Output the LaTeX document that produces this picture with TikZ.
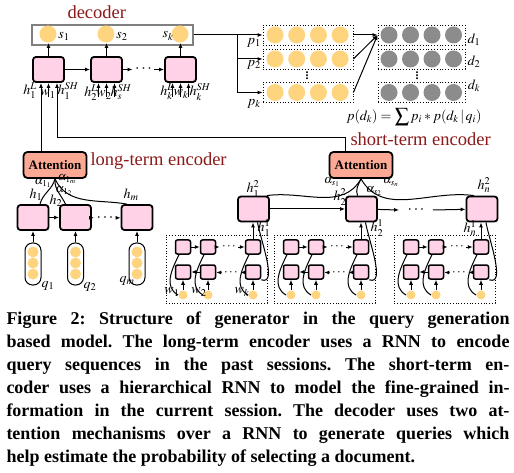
\documentclass[tikz,border=0pt]{standalone}
\usepackage{mathptmx}
\usepackage{fontspec}
\setmainfont{Liberation Serif}
\usetikzlibrary{arrows.meta,positioning,calc}
\definecolor{cellpink}{RGB}{255,210,232}
\definecolor{attnred}{RGB}{251,169,148}
\definecolor{qyellow}{RGB}{255,212,127}
\definecolor{docgray}{RGB}{140,140,140}
\definecolor{titlered}{RGB}{140,25,25}
\newcommand{\tightvdots}{\vbox{\baselineskip=3.2pt\lineskiplimit=0pt\hbox{.}\hbox{.}\hbox{.}}}
\tikzset{
  cell/.style={draw,line width=1.8pt,rounded corners=3pt,fill=cellpink,minimum width=31pt,minimum height=25pt,inner sep=0pt},
  minicell/.style={draw,line width=1.5pt,rounded corners=2pt,fill=cellpink,minimum width=15pt,minimum height=14pt,inner sep=0pt},
  attn/.style={draw,line width=1.8pt,rounded corners=4pt,fill=attnred,minimum width=63pt,minimum height=26pt,inner sep=0pt,font=\fontsize{13}{15}\selectfont\bfseries},
  ydot/.style={circle,fill=qyellow,minimum size=17pt,inner sep=0pt},
  gdot/.style={circle,fill=docgray,minimum size=17pt,inner sep=0pt},
  qdot/.style={circle,fill=qyellow,minimum size=11pt,inner sep=0pt},
  wdot/.style={circle,fill=qyellow,minimum size=9pt,inner sep=0pt},
  dotrow/.style={draw,dotted,line width=0.8pt,minimum width=90pt,minimum height=20pt,inner sep=0pt},
  pill/.style={draw,line width=1pt,rounded corners=7.5pt,minimum width=16pt,minimum height=42pt,inner sep=0pt},
  lbl/.style={inner sep=0pt,font=\fontsize{14}{16}\selectfont},
  albl/.style={inner sep=0pt,font=\fontsize{12}{14}\selectfont},
  part/.style={inner sep=0pt,anchor=west,text=titlered,font=\fontsize{18.5}{20}\selectfont},
  hdots/.style={inner sep=0pt,inner xsep=2pt,font=\fontsize{16}{18}\selectfont},
  vdotsep/.style={inner sep=0pt,font=\fontsize{12}{12}\selectfont\bfseries}
}

\begin{document}
\begin{tikzpicture}[x=1pt,y=-1pt,>={Latex[length=5pt,width=4pt]},line width=1pt]
  \useasboundingbox (0,0) rectangle (514,473);

  \node[draw=gray,line width=1.3pt,minimum width=161pt,minimum height=20pt,inner sep=0pt] (decbox) at (112.5,35) {};
  \node[part] (declbl) at (67,12) {decoder};
  \foreach \i/\x/\lx in {1/48/64,2/106/122,k/180/168} {
    \node[ydot] (s\i) at (\x,34) {};
    \node[lbl] (sl\i) at (\lx,36) {\(s_\i\)};
    \node[cell] (dec\i) at (\x+0.5,69.5) {};
    \draw[->] (dec\i.north) -- (dec\i.north |- s\i.south);
  }
  \node[hdots] (ddots) at (143.5,69.5) {\(\cdots\)};
  \draw[->] (dec1) -- (dec2);
  \draw[->] (dec2) -- (ddots);
  \draw[->] (ddots) -- (deck);
  \foreach \c in {dec2,deck}
    \foreach \dx in {-8,0,8}
      \draw[->] ([xshift=\dx pt,yshift=-14pt]\c.south) -- ([xshift=\dx pt]\c.south);
  \draw[->] ([yshift=-14pt]dec1.south) -- (dec1.south);
  \node[lbl] (hL1) at (30,91) {\(h_1^L\)};
  \node[lbl] (w1d) at (48,94) {\(w_1\)};
  \node[lbl] (hS1) at (68,91) {\(h_1^{SH}\)};
  \node[lbl] (hL2) at (91,93) {\(h_2^L\)};
  \node[lbl] (w2d) at (104,95) {\(w_2\)};
  \node[lbl] (hS2) at (121,92) {\(h_s^{SH}\)};
  \node[lbl] (hLk) at (167,92) {\(h_k^L\)};
  \node[lbl] (wkd) at (181,94) {\(w_k\)};
  \node[lbl] (hSk) at (200,92) {\(h_k^{SH}\)};

  \coordinate (split) at (237,35);
  \draw (decbox.east) -- (split);
  \foreach \r/\y/\py/\dy in {1/35/43/40,2/59/65/62,k/92.5/104/86} {
    \node[dotrow] (yrow\r) at (308,\y) {};
    \node[dotrow,minimum width=87pt] (grow\r) at (421.5,\y) {};
    \foreach \k in {0,...,3} {
      \node[ydot] (yd\r\k) at (275+21.7*\k,\y) {};
      \node[gdot] (gd\r\k) at (389+21.5*\k,\y) {};
    }
    \draw[->] (split) |- (yrow\r.west);
    \draw[->] (yrow\r.east) -- (grow1.west);
    \node[lbl] (pl\r) at (254,\py) {\(p_\r\)};
    \node[lbl] (dl\r) at (474,\dy) {\(d_\r\)};
  }
  \node[vdotsep] (yvd) at (307,75.5) {\tightvdots};
  \node[vdotsep] (gvd) at (417,75.5) {\tightvdots};
  \node[lbl] (pdk) at (414,117) {\(p(d_k) = \displaystyle\sum p_i * p(d_k\,|\,q_i)\)};

  \node[attn] (attL) at (55,165) {Attention};
  \node[part] (ltlbl) at (90,161) {long-term encoder};
  \foreach \i/\x/\qx/\qy in {1/33/48/286,2/75.5/90/287,m/137/127/281} {
    \node[cell] (lc\i) at (\x,217.5) {};
    \node[pill] (pill\i) at (\x,264) {};
    \foreach \k in {0,1,2}
      \node[qdot] (qd\i\k) at (\x,252+11*\k) {};
    \draw[->] (pill\i) -- (lc\i);
    \node[lbl] (ql\i) at (\qx,\qy) {\(q_\i\)};
  }
  \node[hdots] (ldots) at (105,218) {\(\cdots\)};
  \draw[->] (lc1) -- (lc2);
  \draw[->] (lc2) -- (ldots);
  \draw[->] (ldots) -- (lcm);
  \draw (attL.south) to[out=-105,in=75] ([xshift=7pt]lc1.north);
  \draw (attL.south) to[out=-95,in=115] ([xshift=-10pt]lc2.north);
  \draw (attL.south) to[out=-65,in=170] ([xshift=-10pt]lcm.north);
  \node[lbl] (hl1) at (36,195) {\(h_1\)};
  \node[lbl] (hl2) at (56,201) {\(h_2\)};
  \node[lbl] (hlm) at (131,195) {\(h_m\)};
  \node[albl] (al1) at (43,183) {\(\alpha_{1_1}\)};
  \node[albl] (al2) at (64,191) {\(\alpha_{1_2}\)};
  \node[albl] (alm) at (67,179) {\(\alpha_{1_m}\)};
  \draw[->] ([xshift=-14pt]attL.north) -- ([xshift=-7.5pt]dec1.south);

  \node[attn] (attS) at (361,165) {Attention};
  \node[part] (stlbl) at (350,139) {short-term encoder};
  \draw[->] ([xshift=-16pt]attS.north) |- ([xshift=8.5pt,yshift=-55pt]dec1.south) -- ([xshift=8.5pt]dec1.south);
  \foreach \i/\x/\L in {1/253.5/166,2/361.5/274,n/482/394} {
    \node[cell] (sc\i) at (\x,209) {};
    \node[dotrow,minimum width=101pt,minimum height=68pt] (sbox\i) at (\L+50.5,269) {};
    \foreach \j/\dx in {1/17,2/42,k/87} {
      \node[minicell] (t\i-\j) at (\L+\dx,247) {};
      \node[minicell] (b\i-\j) at (\L+\dx,272) {};
      \node[wdot] (w\i-\j) at (\L+\dx,295) {};
      \draw[->] (w\i-\j) -- (b\i-\j);
      \draw (w\i-\j.west) .. controls +(-14,-8) and +(-8,16) .. ([xshift=-4pt]t\i-\j.south);
    }
    \node[hdots,font=\fontsize{13}{15}\selectfont] (td\i) at (\L+63,247) {\(\cdots\)};
    \node[hdots,font=\fontsize{13}{15}\selectfont] (bd\i) at (\L+65,273) {\(\cdots\)};
    \draw[->] (t\i-1) -- (t\i-2);
    \draw[->] (t\i-2) -- (td\i);
    \draw[->] (td\i) -- (t\i-k);
    \draw[->] (b\i-k) -- (bd\i);
    \draw[->] (bd\i) -- (b\i-2);
    \draw[->] (b\i-2) -- (b\i-1);
    \draw[->] (t\i-k.north) -- (t\i-k.north |- sc\i.south);
    \draw (b\i-k.south east) to[out=-20,in=-80,looseness=0.8] ([xshift=4pt]sc\i.south);
  }
  \node[hdots] (sdots) at (416,210) {\(\cdots\)};
  \draw[->] (sc1) -- (sc2);
  \draw[->] (sc2) -- ([xshift=-6pt]sdots.west);
  \draw[->] ([xshift=6pt]sdots.east) -- (scn);
  \draw (attS.south) to[out=-120,in=8] ([xshift=-3pt]sc1.north east);
  \draw (attS.south) to[out=-115,in=110] ([xshift=-4pt]sc2.north);
  \draw (attS.south) to[out=-60,in=172] ([xshift=-8pt]scn.north);
  \node[lbl] (hs1) at (253,189) {\(h_1^2\)};
  \node[lbl] (hs2) at (340,197) {\(h_2^2\)};
  \node[lbl] (hsn) at (484,185) {\(h_n^2\)};
  \node[albl] (as1) at (332,182) {\(\alpha_{s_1}\)};
  \node[albl] (as2) at (374,191) {\(\alpha_{s_2}\)};
  \node[albl] (asn) at (391,182) {\(\alpha_{s_n}\)};
  \node[lbl] (hb1) at (264,228) {\(h_1^1\)};
  \node[lbl] (hb2) at (377,228) {\(h_2^1\)};
  \node[lbl] (hbn) at (470,228) {\(h_n^1\)};
  \node[lbl] (wl1) at (172,292) {\(w_1\)};
  \node[lbl] (wl2) at (199,292) {\(w_2\)};
  \node[lbl] (wlk) at (242,292) {\(w_k\)};

  \node[anchor=north west,inner sep=0pt,text width=503pt,align=justify,font=\fontsize{18}{23}\selectfont\bfseries\frenchspacing] (caption) at (6,311)
    {Figure 2: Structure of generator in the query generation\linebreak
     based model. The long-term encoder uses a RNN to encode\linebreak
     query sequences in the past sessions. The short-term en-\linebreak
     coder uses a hierarchical RNN to model the fine-grained in-\linebreak
     formation in the current session. The decoder uses two at-\linebreak
     tention mechanisms over a RNN to generate queries which\linebreak
     help estimate the probability of selecting a document.};
\end{tikzpicture}
\end{document}
